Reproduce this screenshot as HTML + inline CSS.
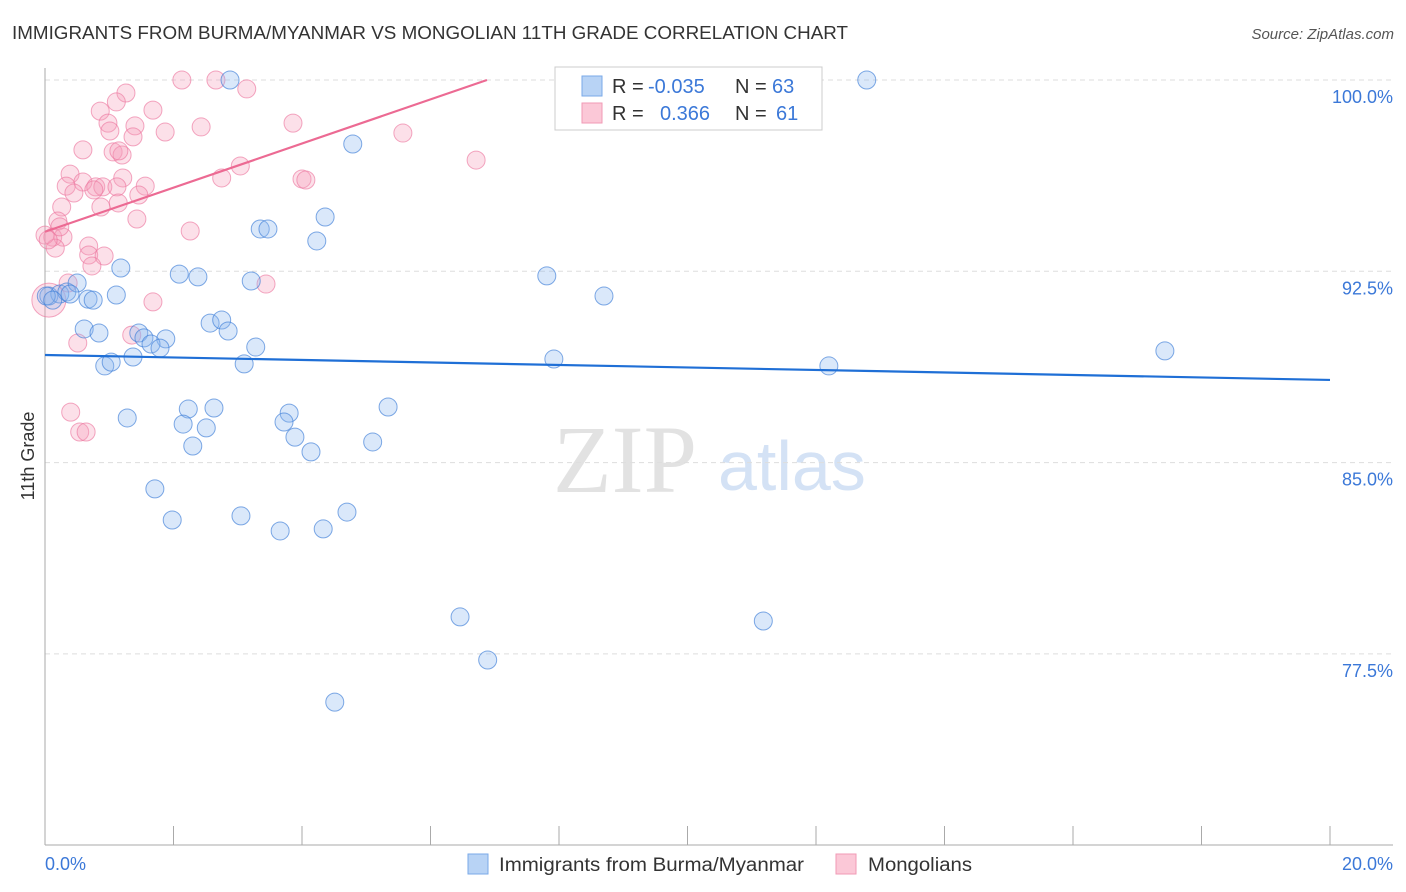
<!DOCTYPE html>
<html><head><meta charset="utf-8"><style>
body{margin:0;background:#fff;font-family:"Liberation Sans",sans-serif}
svg{display:block}
</style></head><body>
<svg id="chart" width="1406" height="892" viewBox="0 0 1406 892">
<text x="12" y="39" font-size="18.6" fill="#333" textLength="836" lengthAdjust="spacingAndGlyphs">IMMIGRANTS FROM BURMA/MYANMAR VS MONGOLIAN 11TH GRADE CORRELATION CHART</text>
<text x="1394" y="39" font-size="15" fill="#555" font-style="italic" text-anchor="end">Source: ZipAtlas.com</text>
<g>
<text x="553" y="492" font-family="Liberation Serif,serif" font-size="96" fill="#e2e2e2">ZIP</text>
<text x="718" y="490" font-size="70" fill="#d4e2f5">atlas</text>
</g>
<g id="grid"></g>
<g id="axes"></g>
<g id="pts"></g>
<g id="lines"></g>
<text transform="translate(34,456) rotate(-90)" font-size="18" fill="#333" text-anchor="middle">11th Grade</text>
<g>
<rect x="555" y="67" width="267" height="63" fill="#fff" stroke="#ccc"/>
<rect x="582" y="76" width="20" height="20" fill="#b8d3f5" stroke="#7aaae8"/>
<rect x="582" y="103" width="20" height="20" fill="#fbc8d7" stroke="#f09ab5"/>
<text x="612" y="93" font-size="20" fill="#333">R = <tspan fill="#3b78d8" x="648">-0.035</tspan></text>
<text x="735" y="93" font-size="20" fill="#333">N = <tspan fill="#3b78d8" x="772">63</tspan></text>
<text x="612" y="120" font-size="20" fill="#333">R = <tspan fill="#3b78d8" x="660">0.366</tspan></text>
<text x="735" y="120" font-size="20" fill="#333">N = <tspan fill="#3b78d8" x="776">61</tspan></text>
</g>
<g>
<rect x="468" y="854" width="20" height="20" fill="#b8d3f5" stroke="#7aaae8"/>
<text x="499" y="871" font-size="19" fill="#333" textLength="305" lengthAdjust="spacingAndGlyphs">Immigrants from Burma/Myanmar</text>
<rect x="836" y="854" width="20" height="20" fill="#fbc8d7" stroke="#f09ab5"/>
<text x="868" y="871" font-size="19" fill="#333" textLength="104" lengthAdjust="spacingAndGlyphs">Mongolians</text>
</g>
</svg>
<script>
const yTicks=[100,92.5,85,77.5];
const yTickLabels=["100.0%","92.5%","85.0%","77.5%"];
const xTickLabels=["0.0%","20.0%"];
const blueX=[2.88,12.79,4.79,4.36,3.35,3.47,4.23,1.18,2.09,2.38,3.21,7.81,8.70,0.06,0.23,0.34,0.50,0.39,0.67,0.75,1.11,0.61,0.84,1.46,1.54,1.88,1.65,1.79,2.57,2.75,2.85,3.28,0.93,1.03,1.37,3.10,7.92,12.20,17.43,1.28,2.23,2.63,2.15,2.30,2.51,3.80,3.72,3.89,4.14,5.34,5.10,1.71,1.98,3.05,3.66,4.33,4.70,6.46,11.18,6.89,4.51,0.02,0.12];
const blueY=[100,100,97.49,94.63,94.16,94.16,93.69,92.63,92.39,92.28,92.12,92.32,91.53,91.53,91.61,91.69,92.04,91.61,91.41,91.37,91.57,90.24,90.08,90.08,89.89,89.85,89.65,89.49,90.47,90.59,90.16,89.53,88.79,88.94,89.14,88.87,89.06,88.79,89.38,86.75,87.10,87.14,86.51,85.65,86.36,86.94,86.59,86.00,85.42,87.18,85.81,83.97,82.75,82.91,82.32,82.40,83.06,78.95,78.79,77.26,75.61,91.53,91.37];
const pinkX=[2.13,2.66,3.14,1.26,1.11,0.86,1.68,0.98,1.40,1.01,2.43,1.87,3.86,5.57,1.37,6.71,0.59,1.06,1.20,1.15,3.04,0.39,1.21,4.00,4.06,2.75,0.59,0.33,0.79,0.90,1.12,1.56,0.45,0.76,1.46,1.14,0.87,0.26,1.43,0.20,2.26,0.12,0.28,0.16,0.68,0.68,0.92,0.73,3.44,0.36,1.68,1.35,0.51,0.40,0.54,0.64,0.06,0.0,0.23,0.05];
const pinkY=[100,100,99.65,99.49,99.14,98.78,98.82,98.31,98.20,98.00,98.16,97.96,98.31,97.92,97.77,96.86,97.26,97.18,97.06,97.22,96.63,96.31,96.16,96.12,96.08,96.16,96.00,95.84,95.81,95.81,95.81,95.84,95.57,95.69,95.49,95.18,95.02,95.02,94.55,94.47,94.08,93.84,93.84,93.41,93.49,93.14,93.10,92.71,92.00,92.04,91.30,90.00,89.69,86.98,86.20,86.20,91.37,93.92,94.24,93.73];
const blueFit=[89.22,-0.049];
const pinkFit=[94.05,0.865];
const NS="http://www.w3.org/2000/svg";
const X0=45,X1=1330,Y100=80,PXPER=25.507;
function sx(v){return X0+(v/20)*(X1-X0);}
function sy(v){return Y100+(100-v)*PXPER;}
function mk(tag,attrs,parent){const e=document.createElementNS(NS,tag);for(const k in attrs)e.setAttribute(k,attrs[k]);document.getElementById(parent).appendChild(e);return e;}
yTicks.forEach((t,i)=>{
 const l=mk('line',{x1:X0,x2:1393,y1:sy(t),y2:sy(t),stroke:'#ddd','stroke-dasharray':'5,4'},'grid');
 
 
 const tx=mk('text',{x:1393,y:sy(t)+23,'font-size':18,fill:'#3b78d8','text-anchor':'end'},'grid');
 tx.textContent=yTickLabels[i];
 
 
});
const ax=mk('line',{x1:X0,x2:X0,y1:68,y2:845,stroke:'#aaa'},'axes');


const bx=mk('line',{x1:X0,x2:1393,y1:845,y2:845,stroke:'#aaa'},'axes');


for(let i=0;i<=10;i++){
 const t=mk('line',{x1:sx(i*2),x2:sx(i*2),y1:826,y2:845,stroke:'#aaa'},'axes');
 
 
}
const xl0=mk('text',{x:45,y:870,'font-size':18,fill:'#3b78d8'},'axes');
xl0.textContent=xTickLabels[0];


const xl1=mk('text',{x:1393,y:870,'font-size':18,fill:'#3b78d8','text-anchor':'end'},'axes');
xl1.textContent=xTickLabels[1];


pinkX.forEach((v,i)=>{
 const big=(i===56);
 const c=mk('circle',{cx:sx(v),cy:sy(pinkY[i]),r:big?17:9,fill:'rgba(246,160,188,0.32)',stroke:'rgba(236,120,160,0.65)','stroke-width':1},'pts');
 
 
});
blueX.forEach((v,i)=>{
 const c=mk('circle',{cx:sx(v),cy:sy(blueY[i]),r:9,fill:'rgba(140,185,240,0.32)',stroke:'rgba(60,125,215,0.65)','stroke-width':1},'pts');
 
 
});
const bl=mk('line',{x1:sx(0),y1:sy(blueFit[0]),x2:sx(20),y2:sy(blueFit[0]+blueFit[1]*20),stroke:'#1f6fd6','stroke-width':2.2},'lines');


const xEnd=Math.min(20,(100-pinkFit[0])/pinkFit[1]);
const pl=mk('line',{x1:sx(0),y1:sy(pinkFit[0]),x2:sx(xEnd),y2:sy(pinkFit[0]+pinkFit[1]*xEnd),stroke:'#ec6a93','stroke-width':2.2},'lines');


</script>
</body></html>
